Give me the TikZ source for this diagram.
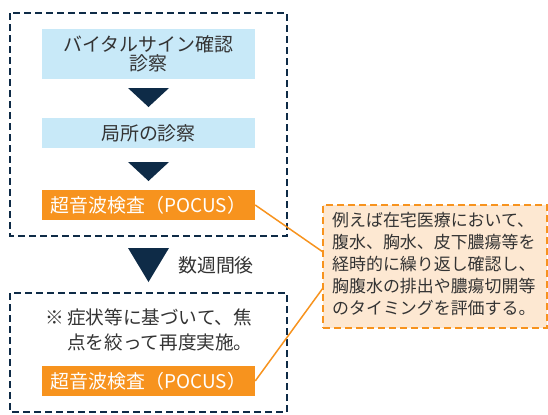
\documentclass[tikz,border=0pt]{standalone}
\usepackage{fontspec}
\setmainfont{Noto Sans CJK JP}
\definecolor{navy}{HTML}{0E2B47}
\definecolor{bluefill}{HTML}{C8E9F8}
\definecolor{orng}{HTML}{F7931E}
\definecolor{peach}{HTML}{FDE8D2}
\definecolor{txt}{HTML}{333333}
\usetikzlibrary{calc}
\tikzset{
  frame/.style={draw=navy, line width=1.4bp, dash pattern=on 7bp off 4bp},
  bluebox/.style={fill=bluefill, minimum width=213bp, inner sep=0pt, text=txt, align=center, font=\fontsize{19}{19}\selectfont},
  pocus/.style={fill=orng, minimum width=213bp, minimum height=30bp, inner sep=0pt, text=white, font=\fontsize{19}{19}\selectfont},
  tri/.style={fill=navy, draw=none},
  notebox/.style={draw=orng, fill=peach, line width=1.4bp, dash pattern=on 7bp off 4bp},
  link/.style={draw=orng, line width=1.5bp},
  plain/.style={text=txt, inner sep=0pt}
}
\begin{document}
\begin{tikzpicture}[x=1bp,y=-1bp]
\useasboundingbox (0,0) rectangle (548,414);
% outer frames
\draw[frame] (10,13) rectangle (287,236);
\draw[frame] (10,293) rectangle (287,412);
% top flow
\node[bluebox, minimum height=50bp] (vital) at (148.5,54) {バイタルサイン確認\\診察};
\fill[tri] (128,88) -- (169,88) -- (148.5,107) -- cycle;
\node[bluebox, minimum height=30bp] (local) at (148.5,133) {局所の診察};
\fill[tri] (128,162) -- (169,162) -- (148.5,181) -- cycle;
\node[pocus] (pocus1) at (148.5,205) {超音波検査（POCUS）};
% big arrow
\fill[tri] (128,248) -- (169,248) -- (148.5,282) -- cycle;
\node[plain, anchor=west, font=\fontsize{19}{19}\selectfont] (weeks) at (178,265) {数週間後};
% bottom box
\node[plain, anchor=north west, align=left, font=\fontsize{18.7}{25}\selectfont] (remark) at (45,309)
  {\makebox[22bp][l]{※}症状等に基づいて、焦\\\hspace*{22bp}点を絞って再度実施。};
\node[pocus] (pocus2) at (148.5,381) {超音波検査（POCUS）};
% note
\node[notebox, minimum width=224bp, minimum height=123bp, inner sep=0pt] (note) at (435,266.5) {};
\node[plain, anchor=north west, align=left, font=\fontsize{17}{22}\selectfont] (notetext) at (332,212)
  {例えば在宅医療において、\\腹水、胸水、皮下膿瘍等を\\経時的に繰り返し確認し、\\胸腹水の排出や膿瘍切開等\\のタイミングを評価する。};
\coordinate (n1) at (323,252);
\coordinate (n2) at (323,288);
\draw[link] (pocus1.east) -- (n1);
\draw[link] (pocus2.east) -- (n2);
\end{tikzpicture}
\end{document}
